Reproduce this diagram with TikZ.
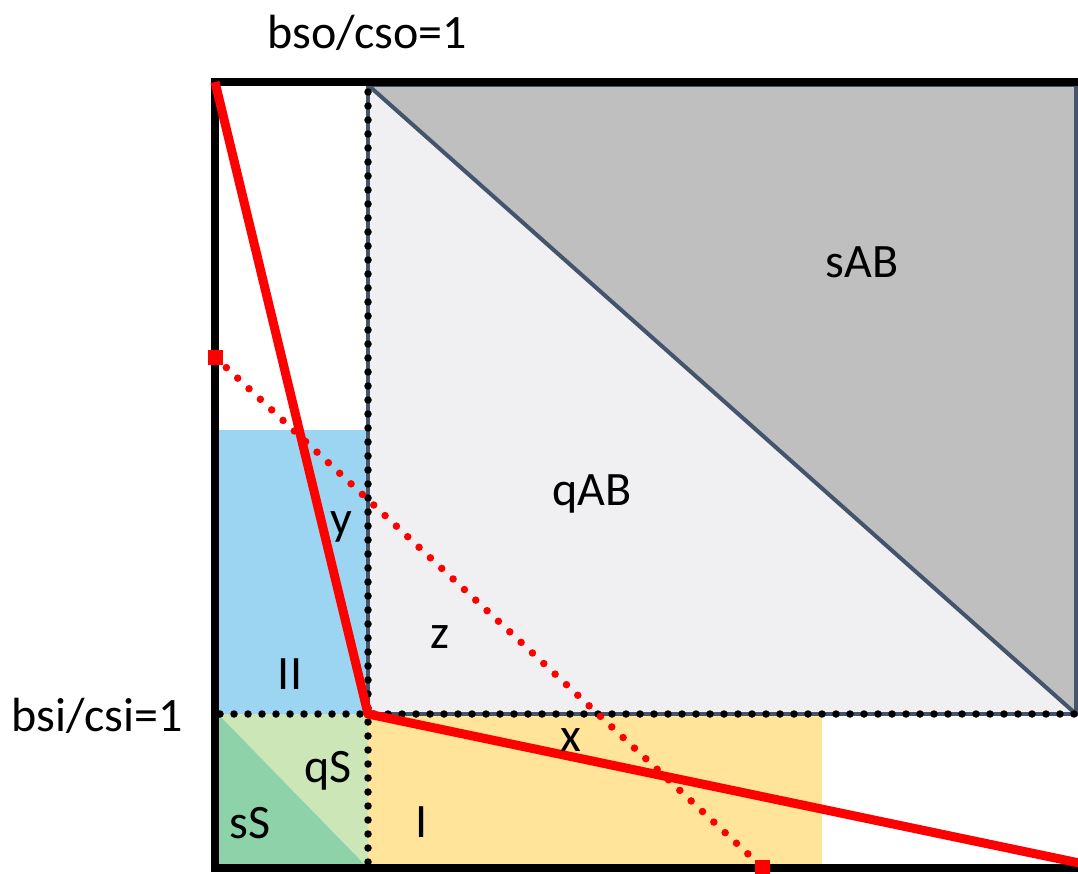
\documentclass[tikz,border=0pt]{standalone}
\usepackage{fontspec}
\setmainfont{Carlito}
\usetikzlibrary{
  positioning,
  calc
}
\definecolor{qabgray}{RGB}{240,240,242}
\definecolor{sabgray}{RGB}{191,191,191}
\definecolor{abedge}{RGB}{68,84,106}
\definecolor{twoblue}{RGB}{155,213,242}
\definecolor{oneyellow}{RGB}{255,228,153}
\definecolor{qsgreen}{RGB}{204,230,184}
\definecolor{ssgreen}{RGB}{142,210,170}
\definecolor{cutred}{RGB}{255,0,0}

\begin{document}
\begin{tikzpicture}[x=1pt, y=-1pt,
  lbl/.style={font=\fontsize{48}{52}\selectfont, inner sep=0pt},
  dotline/.style={line width=7.5pt, line cap=round, dash pattern=on 0pt off 14pt},
  reddots/.style={cutred, line width=7.5pt, line cap=round, dash pattern=on 0pt off 15.5pt},
  redline/.style={cutred, line width=9pt, line join=round},
  marker/.style={fill=cutred, minimum size=15pt, inner sep=0pt}]
  \useasboundingbox (0,0) rectangle (1078,874);
  % corner points
  \coordinate (tl) at (215,82);
  \coordinate (bl) at (215,868);
  \coordinate (mid) at (368,714);
  \coordinate (abtl) at (368,85);
  \coordinate (abtr) at (1076,85);
  \coordinate (abbr) at (1076,714);
  % regions
  \fill[twoblue] (218,430) rectangle (mid);
  \fill[oneyellow] (mid) rectangle (822,868);
  \fill[qsgreen] (218,714) -- (mid) -- (368,868) -- cycle;
  \fill[ssgreen] (218,714) -- (368,868) -- (218,868) -- cycle;
  \fill[qabgray] (abtl) rectangle (abbr);
  \fill[sabgray] (abtl) -- (abtr) -- (abbr) -- cycle;
  \draw[abedge, line width=4pt] (abtl) rectangle (abbr);
  \draw[abedge, line width=4pt] (abtl) -- (abbr);
  % dotted borders
  \draw[dotline] (368,92) -- (368,866);
  \draw[dotline] (220,714) -- (1078,714);
  % frame
  \draw[line width=7.5pt] (1084,82) -- (tl) -- (bl) -- (1084,868);
  % cuts
  \node[marker] (p1) at (215,357) {};
  \node[marker] (p2) at (762,867) {};
  \draw[reddots] (p1.center) -- (p2.center);
  \draw[redline] (tl) -- (mid) -- (1084,864);
  % labels
  \node[lbl] (bso) at (367,33) {bso/cso=1};
  \node[lbl] (bsi) at (97,716) {bsi/csi=1};
  \node[lbl] (sab) at (862,262) {sAB};
  \node[lbl] (qab) at (592,494) {qAB};
  \node[lbl] (ly) at (341,527) {y};
  \node[lbl] (lz) at (440,637) {z};
  \node[lbl] (ltwo) at (290,674) {II};
  \node[lbl] (lx) at (571,740) {x};
  \node[lbl] (qs) at (328,771) {qS};
  \node[lbl] (ss) at (250,823) {sS};
  \node[lbl] (lone) at (422,822) {I};
\end{tikzpicture}
\end{document}
